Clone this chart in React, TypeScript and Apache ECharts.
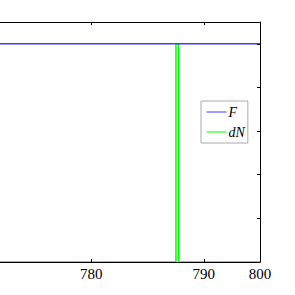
import React, { useEffect, useRef } from "react";
import * as echarts from "echarts";

// x range of the visible window (left part is cut off in the reference)
const xMin = 763;
const xMax = 795;
const xTickValues = [780, 790, 795];
const xTickLabels = ["780", "790", "800"];
const yTickValues = [0, 1, 2, 3, 4, 5];

const seriesF = [
  [763, 5],
  [795, 5],
];
const seriesDN = [
  [763, 0],
  [787.53, 0],
  [787.53, 5],
  [787.77, 5],
  [787.77, 0],
  [795, 0],
];

const OFFSET = 100;

export default function App() {
  const ref = useRef<HTMLDivElement>(null);
  useEffect(() => {
    if (!ref.current) return;
    const chart = echarts.init(ref.current, null, { renderer: "svg" });
    const font = "'Liberation Serif', 'Times New Roman', serif";
    const tickCommon = { inside: true, length: 3, lineStyle: { color: "#000", width: 1 } };
    chart.setOption({
      animation: false,
      backgroundColor: "#fff",
      grid: { left: 0, right: 35, top: 22, bottom: 33 },
      xAxis: [
        {
          type: "value",
          min: xMin,
          max: xMax,
          position: "bottom",
          z: 5,
          axisLine: { show: true, onZero: false, lineStyle: { color: "#000", width: 1 } },
          axisTick: { ...tickCommon, customValues: xTickValues.slice(0, 2) },
          axisLabel: {
            customValues: xTickValues,
            formatter: (v: number) => {
              const i = xTickValues.indexOf(v);
              return i >= 0 ? xTickLabels[i] : "";
            },
            fontFamily: font,
            fontSize: 15,
            color: "#000",
            margin: 4,
          },
          splitLine: { show: false },
        },
        {
          type: "value",
          min: xMin,
          max: xMax,
          position: "top",
          z: 5,
          axisLine: { show: true, onZero: false, lineStyle: { color: "#000", width: 1 } },
          axisTick: { ...tickCommon, customValues: xTickValues.slice(0, 2) },
          axisLabel: { show: false },
          splitLine: { show: false },
        },
      ],
      yAxis: [
        {
          type: "value",
          min: 0,
          max: 5.5,
          position: "right",
          z: 5,
          axisLine: { show: true, onZero: false, lineStyle: { color: "#000", width: 1 } },
          axisTick: { ...tickCommon, customValues: yTickValues },
          axisLabel: { show: false },
          splitLine: { show: false },
        },
        {
          type: "value",
          min: 0,
          max: 5.5,
          position: "left",
          axisLine: { show: true, onZero: false, lineStyle: { color: "#000" } },
          axisTick: { show: false },
          axisLabel: { show: false },
          splitLine: { show: false },
        },
      ],
      legend: {
        data: ["F", "dN"],
        orient: "vertical",
        left: 201 + OFFSET,
        top: 101,
        padding: [4, 3, 4, 5],
        itemGap: 6,
        itemWidth: 20,
        itemHeight: 14,
        borderColor: "#aaa",
        borderWidth: 1,
        backgroundColor: "#fff",
        itemStyle: { opacity: 0 },
        lineStyle: { width: 1 },
        textStyle: { fontFamily: font, fontStyle: "italic", fontSize: 14, color: "#000", padding: [0, 0, 0, -3] },
      },
      series: [
        {
          name: "dN",
          type: "line",
          data: seriesDN,
          symbol: "none",
          lineStyle: { color: "#00ff00", width: 1.5 },
          itemStyle: { color: "#00ff00" },
          clip: true,
        },
        {
          name: "F",
          type: "line",
          data: seriesF,
          symbol: "none",
          lineStyle: { color: "#3c3cff", width: 1.6 },
          itemStyle: { color: "#3c3cff" },
          clip: true,
        },
      ],
    });
    return () => chart.dispose();
  }, []);
  return (
    <div style={{ position: "fixed", left: 0, top: 0, width: 295, height: 295, overflow: "hidden" }}>
      <div
        ref={ref}
        style={{ position: "absolute", left: -OFFSET, top: 0, width: 295 + OFFSET, height: 295 }}
      />
    </div>
  );
}
